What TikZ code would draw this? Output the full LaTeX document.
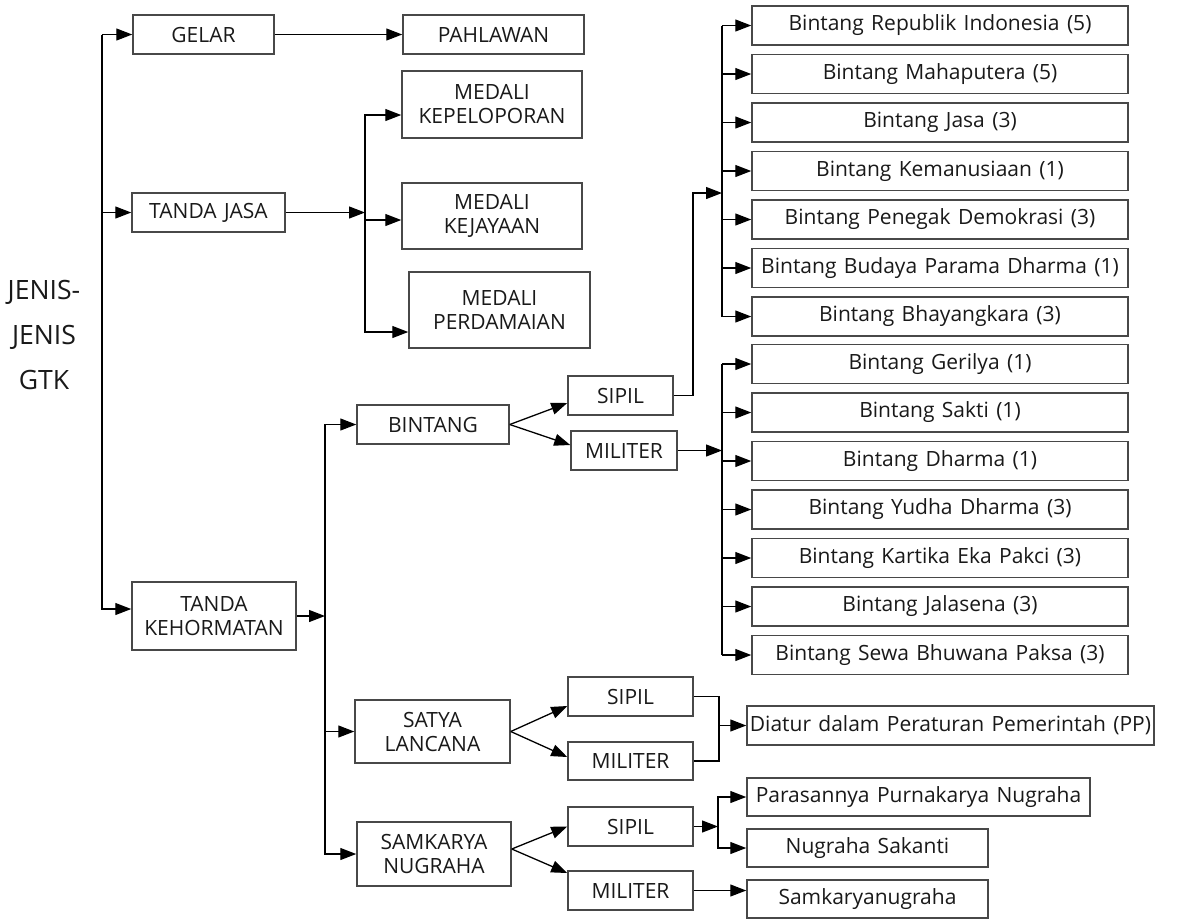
\documentclass[tikz,border=0pt]{standalone}
\usepackage{fontspec}
\setmainfont{Open Sans}[WordSpace=1.35]
\usetikzlibrary{positioning,arrows.meta}
\definecolor{boxgray}{RGB}{72,72,72}
\definecolor{inkgray}{RGB}{25,25,25}
\tikzset{
  box/.style  ={draw=boxgray, line width=0.75pt, align=center, text=inkgray,
                font=\fontsize{10.5}{12}\selectfont, inner sep=0pt},
  sz/.style 2 args={minimum width=#1*0.5pt, minimum height=#2*0.5pt},
  ar/.style   ={-{Triangle[length=8pt,width=6pt]}, line width=0.65pt},
  ln/.style   ={line width=0.65pt},
}

\begin{document}
\begin{tikzpicture}[x=0.5pt,y=-0.5pt,node distance=4pt]
\useasboundingbox (0,0) rectangle (1191,918);

\node[text=inkgray,align=center,font=\fontsize{13.3}{22.5}\selectfont] (gtk) at (44,335) {JENIS-\\JENIS\\GTK};

% first level
\node[box,sz={141}{39}] (gelar) at (203.5,34.5) {GELAR};
\node[box,sz={153}{39}] (jasa) at (208.5,212.5) {TANDA JASA};
\node[box,sz={164}{68}] (horm) at (214,616) {TANDA\\KEHORMATAN};

\node[box,sz={181}{39}] (pahl) at (493.5,34.5) {PAHLAWAN};
\node[box,sz={180}{67}] (kep) at (492,104.5) {MEDALI\\KEPELOPORAN};
\node[box,sz={180}{66}] (jaya) at (492,216) {MEDALI\\KEJAYAAN};
\node[box,sz={181}{76}] (damai) at (499.5,310) {MEDALI\\PERDAMAIAN};

% tanda kehormatan
\node[box,sz={152}{39}] (bint) at (433,424.5) {BINTANG};
\node[box,sz={155}{63}] (satya) at (432.5,731.5) {SATYA\\LANCANA};
\node[box,sz={154}{64}] (samk) at (434,854) {SAMKARYA\\NUGRAHA};

\node[box,sz={105}{39}] (bsip) at (620.5,395.5) {SIPIL};
\node[box,sz={106}{39}] (bmil) at (624,450.5) {MILITER};
\node[box,sz={125}{39}] (ssip) at (630.5,696.5) {SIPIL};
\node[box,sz={125}{38}] (smil) at (630.5,761) {MILITER};
\node[box,sz={125}{39}] (nsip) at (630.5,826.5) {SIPIL};
\node[box,sz={125}{39}] (nmil) at (630.5,890.5) {MILITER};

% bintang sipil
\node[box,sz={376}{39}] (s1) at (940,25.5) {Bintang Republik Indonesia (5)};
\node[box,sz={376}{39},below=of s1] (s2) {Bintang Mahaputera (5)};
\node[box,sz={376}{39},below=of s2] (s3) {Bintang Jasa (3)};
\node[box,sz={376}{39},below=of s3] (s4) {Bintang Kemanusiaan (1)};
\node[box,sz={376}{39},below=of s4] (s5) {Bintang Penegak Demokrasi (3)};
\node[box,sz={376}{39},below=of s5] (s6) {Bintang Budaya Parama Dharma (1)};
\node[box,sz={376}{39},below=of s6] (s7) {Bintang Bhayangkara (3)};

% bintang militer
\node[box,sz={376}{39}] (m1) at (940,364) {Bintang Gerilya (1)};
\node[box,sz={376}{39},below=of m1] (m2) {Bintang Sakti (1)};
\node[box,sz={376}{39},below=of m2] (m3) {Bintang Dharma (1)};
\node[box,sz={376}{39},below=of m3] (m4) {Bintang Yudha Dharma (3)};
\node[box,sz={376}{39},below=of m4] (m5) {Bintang Kartika Eka Pakci (3)};
\node[box,sz={376}{39},below=of m5] (m6) {Bintang Jalasena (3)};
\node[box,sz={376}{39},below=of m6] (m7) {Bintang Sewa Bhuwana Paksa (3)};

\node[box,sz={407}{39}] (diatur) at (950.5,725.5) {Diatur dalam Peraturan Pemerintah (PP)};
\node[box,sz={343}{38}] (paras) at (918.5,797) {Parasannya Purnakarya Nugraha};
\node[box,sz={241}{38}] (sakanti) at (867.5,848) {Nugraha Sakanti};
\node[box,sz={241}{38}] (samkn) at (867.5,899) {Samkaryanugraha};

% junctions
\coordinate (tk) at (102,34.5);
\coordinate (jb) at (365,212.5);
\coordinate (hb) at (325,616);
\coordinate (sk) at (693,395.5);
\coordinate (sb) at (722,193);
\coordinate (mb) at (722,452);
\coordinate (lb) at (719,696.5);
\coordinate (pb) at (718,826.5);
\coordinate (kepin) at ([yshift=-5.25pt]kep.west);
\coordinate (jayain) at ([yshift=-2pt]jaya.west);
\coordinate (damaiin) at ([yshift=-11pt]damai.west);

% left trunk
\draw[ar] (tk |- gelar) -- (gelar);
\draw[ar] (tk |- jasa) -- (jasa);
\draw[ar] (tk |- gelar) |- ([yshift=3.5pt]horm.west);
\draw[ar] (gelar) -- (pahl);

% tanda jasa
\draw[ar] (jasa) -- (jb);
\draw[ar] (jb) |- (kepin);
\draw[ar] (jb |- jayain) -- (jayain);
\draw[ar] (jb) |- (damaiin);

% tanda kehormatan
\draw[ar] (horm) -- (hb);
\draw[ar] (hb) |- (bint);
\draw[ar] (hb |- satya) -- (satya);
\draw[ar] (hb) |- (samk);

\draw[ar] (bint.east) -- ([yshift=-3.75pt]bsip.west);
\draw[ar] (bint.east) -- ([yshift=2.75pt]bmil.west);
\draw[ar] (satya.east) -- ([yshift=-4.75pt]ssip.west);
\draw[ar] (satya.east) -- ([yshift=2pt]smil.west);
\draw[ar] ([yshift=2.5pt]samk.east) -- (nsip.west);
\draw[ar] ([yshift=2.5pt]samk.east) -- ([yshift=8.75pt]nmil.west);

% bintang lists
\draw[ar] (bsip.east) -| (sk |- sb) -- (sb);
\draw[ln] (sb |- s1) -- (sb |- s7);
\foreach \i in {1,...,7} \draw[ar] (sb |- s\i) -- (s\i);

\draw[ar] (bmil.east) -- (mb |- bmil.east);
\draw[ln] (mb |- m1) -- (mb |- m7);
\foreach \i in {1,...,7} \draw[ar] (mb |- m\i) -- (m\i);

% satya lancana, samkarya
\draw[ln] (ssip.east) -| (lb |- smil.east) -- (smil.east);
\draw[ar] (lb |- diatur) -- (diatur);
\draw[ar] (nsip) -- (pb);
\draw[ar] (pb) |- (paras);
\draw[ar] (pb) |- (sakanti);
\draw[ar] (nmil.east) -- (nmil.east -| samkn.west);
\end{tikzpicture}
\end{document}
